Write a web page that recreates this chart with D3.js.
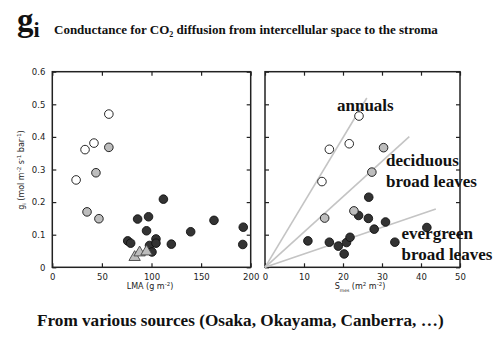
<!DOCTYPE html>
<html>
<head>
<meta charset="utf-8">
<script src="https://cdn.jsdelivr.net/npm/d3@7"></script>
<style>
  body { margin: 0; background: #fff; }
  svg { display: block; }
  .tick text { font-family: "DejaVu Sans", sans-serif; font-size: 8.5px; fill: #222; }
</style>
</head>
<body>
<div id="chart"></div>
<script>
// g_i vs LMA (left panel)
var lmaAnnual = [24, 33, 42, 57];
var giAnnualL = [0.268, 0.361, 0.381, 0.470];
var lmaDecid = [35, 44, 47, 57];
var giDecidL = [0.170, 0.290, 0.149, 0.368];
var lmaTri = [83, 88, 95];
var giTri = [0.031, 0.045, 0.048];
var lmaEver = [76, 79, 86, 95, 97, 98, 100.5, 104.5, 104.5, 112, 120, 139.5, 163, 192.5, 192];
var giEverL = [0.081, 0.074, 0.148, 0.112, 0.155, 0.067, 0.047, 0.087, 0.074, 0.209, 0.071, 0.109, 0.144, 0.123, 0.070];

// g_i vs S_mes (right panel)
var smesAnnual = [24.1, 21.6, 16.5, 14.6];
var giAnnualR = [0.464, 0.379, 0.362, 0.263];
var smesDecid = [30.4, 27.4, 22.8, 15.3];
var giDecidR = [0.367, 0.292, 0.173, 0.151];
var smesEver = [11.0, 16.5, 18.8, 20.9, 21.8, 20.3, 24.0, 26.6, 26.5, 28.0, 30.9, 33.3, 41.5];
var giEverR = [0.081, 0.077, 0.065, 0.076, 0.092, 0.041, 0.159, 0.215, 0.150, 0.117, 0.139, 0.077, 0.122];

// lines through the origin: slope and end point on the S_mes axis
var fitSlopes = [0.0199, 0.01083, 0.00409];
var fitEnds = [26.1, 37.0, 43.8];

var groupLabels = [["annuals"], ["deciduous", "broad leaves"], ["evergreen", "broad leaves"]];

var svg = d3.select("#chart").append("svg")
    .attr("width", 500)
    .attr("height", 349);

var y = d3.scaleLinear().domain([0, 0.6]).range([267.3, 71.7]);
var xL = d3.scaleLinear().domain([0, 200]).range([52.3, 250.7]);
var xR = d3.scaleLinear().domain([0, 50]).range([265, 460]);

function frame(x, xticks, showY) {
    var g = svg.append("g");
    var x0 = x.range()[0], x1 = x.range()[1];
    g.append("g").attr("transform", "translate(0," + y(0) + ")")
        .call(d3.axisBottom(x).tickValues(xticks).tickSizeInner(-4).tickSizeOuter(0).tickPadding(7));
    g.append("g").attr("transform", "translate(0," + y(0.6) + ")")
        .call(d3.axisTop(x).tickValues(xticks).tickSizeInner(-4).tickSizeOuter(0).tickFormat(""));
    var ya = d3.axisLeft(y).tickValues(d3.range(0, 0.61, 0.1)).tickSizeInner(-4).tickSizeOuter(0).tickPadding(7);
    if (showY) ya.tickFormat(function(d) { return d === 0 ? "0" : d3.format(".1f")(d); });
    else ya.tickFormat("");
    g.append("g").attr("transform", "translate(" + x0 + ",0)").call(ya);
    g.append("g").attr("transform", "translate(" + x1 + ",0)")
        .call(d3.axisRight(y).tickValues(d3.range(0, 0.61, 0.1)).tickSizeInner(-4).tickSizeOuter(0).tickFormat(""));
    g.selectAll(".domain").remove();
    g.selectAll(".tick line").attr("stroke", "#222").attr("stroke-width", 1.2);
    g.append("rect")
        .attr("x", x0).attr("y", y(0.6))
        .attr("width", x1 - x0).attr("height", y(0) - y(0.6))
        .attr("fill", "none").attr("stroke", "#222").attr("stroke-width", 1.5);
    return g;
}

frame(xL, [0, 50, 100, 150, 200], true);
frame(xR, [0, 10, 20, 30, 40, 50], false);

var fills = { annual: "#fff", decid: "#bdbdbd", ever: "#333" };

function dots(x, xs, ys, fill) {
    svg.append("g").selectAll("circle")
        .data(d3.zip(xs, ys))
        .enter()
        .append("circle")
        .attr("cx", function(d) { return x(d[0]); })
        .attr("cy", function(d) { return y(d[1]); })
        .attr("r", 4.3)
        .attr("fill", fill)
        .attr("stroke", "#111")
        .attr("stroke-width", 0.9);
}

// fitted lines go underneath the points
svg.append("g").selectAll("line")
    .data(d3.zip(fitSlopes, fitEnds))
    .enter()
    .append("line")
    .attr("x1", xR(0)).attr("y1", y(0))
    .attr("x2", function(d) { return xR(d[1]); })
    .attr("y2", function(d) { return y(d[0] * d[1]); })
    .attr("stroke", "#c4c4c4")
    .attr("stroke-width", 1.6);

dots(xL, lmaEver, giEverL, fills.ever);
dots(xL, lmaAnnual, giAnnualL, fills.annual);
dots(xL, lmaDecid, giDecidL, fills.decid);

svg.append("g").selectAll("path")
    .data(d3.zip(lmaTri, giTri))
    .enter()
    .append("path")
    .attr("d", d3.symbol(d3.symbolTriangle, 56))
    .attr("transform", function(d) { return "translate(" + xL(d[0]) + "," + y(d[1]) + ")"; })
    .attr("fill", "#bdbdbd")
    .attr("stroke", "#444")
    .attr("stroke-width", 0.9);

dots(xR, smesEver, giEverR, fills.ever);
dots(xR, smesAnnual, giAnnualR, fills.annual);
dots(xR, smesDecid, giDecidR, fills.decid);

// group labels in the right panel
var labelPos = [[337, 110.5], [386, 166], [401.5, 239]];
groupLabels.forEach(function(lines, i) {
    var t = svg.append("text")
        .attr("x", labelPos[i][0]).attr("y", labelPos[i][1])
        .style("font-family", "'Liberation Serif', serif")
        .style("font-weight", "bold")
        .style("font-size", "17px")
        .attr("fill", "#111");
    lines.forEach(function(s, j) {
        t.append("tspan").attr("x", labelPos[i][0]).attr("dy", j === 0 ? 0 : 20.5).text(s);
    });
});

// axis titles
var axisFont = "'DejaVu Sans', sans-serif";
var lx = svg.append("text").attr("x", 150).attr("y", 289).attr("text-anchor", "middle")
    .style("font-family", axisFont).style("font-size", "8px").attr("fill", "#222");
lx.append("tspan").text("LMA (g m");
lx.append("tspan").attr("dy", -3).style("font-size", "5.5px").text("-2");
lx.append("tspan").attr("dy", 3).text(")");

var rx = svg.append("text").attr("x", 360).attr("y", 289).attr("text-anchor", "middle")
    .style("font-family", axisFont).style("font-size", "8px").attr("fill", "#222");
rx.append("tspan").text("S");
rx.append("tspan").attr("dy", 3).style("font-size", "4.5px").text("mes");
rx.append("tspan").attr("dy", -3).text(" (m");
rx.append("tspan").attr("dy", -3).style("font-size", "5.5px").text("2");
rx.append("tspan").attr("dy", 3).text(" m");
rx.append("tspan").attr("dy", -3).style("font-size", "5.5px").text("-2");
rx.append("tspan").attr("dy", 3).text(")");

var ly = svg.append("text").attr("transform", "translate(24,170) rotate(-90)").attr("text-anchor", "middle")
    .style("font-family", axisFont).style("font-size", "8px").attr("fill", "#222");
ly.append("tspan").text("g");
ly.append("tspan").attr("dy", 2).style("font-size", "5px").text("i");
ly.append("tspan").attr("dy", -2).text(" (mol m");
ly.append("tspan").attr("dy", -3).style("font-size", "5.5px").text("-2");
ly.append("tspan").attr("dy", 3).text(" s");
ly.append("tspan").attr("dy", -3).style("font-size", "5.5px").text("-1");
ly.append("tspan").attr("dy", 3).text(" bar");
ly.append("tspan").attr("dy", -3).style("font-size", "5.5px").text("-1");
ly.append("tspan").attr("dy", 3).text(")");

// heading
var serif = "'Liberation Serif', 'Times New Roman', serif";
var head = svg.append("text").attr("x", 17).attr("y", 31)
    .style("font-family", serif).style("font-weight", "bold").attr("fill", "#111");
head.append("tspan").style("font-size", "33px").text("g");
head.append("tspan").attr("dy", 6).style("font-size", "22px").text("i");

var sub = svg.append("text").attr("x", 54).attr("y", 34)
    .style("font-family", serif).style("font-weight", "bold").style("font-size", "13px").attr("fill", "#111");
sub.append("tspan").text("Conductance for CO");
sub.append("tspan").attr("dy", 3).style("font-size", "8px").text("2");
sub.append("tspan").attr("dy", -3).text(" diffusion from intercellular space to the stroma");

svg.append("text").attr("x", 37).attr("y", 326)
    .style("font-family", serif).style("font-weight", "bold").style("font-size", "17.2px").attr("fill", "#111")
    .text("From various sources (Osaka, Okayama, Canberra, \u2026)");
</script>
</body>
</html>
